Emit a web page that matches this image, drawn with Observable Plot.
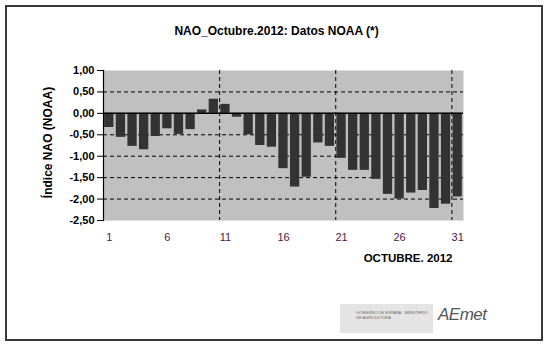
<!DOCTYPE html>
<html>
<head>
<meta charset="utf-8">
<script src="https://cdn.jsdelivr.net/npm/d3@7"></script>
<script src="https://cdn.jsdelivr.net/npm/@observablehq/plot@0.6"></script>
<style>
  html, body { margin: 0; padding: 0; background: #fff; }
  #wrap { position: relative; width: 550px; height: 347px; font-family: "Liberation Sans", Arial, sans-serif; }
  #border { position: absolute; left: 5px; top: 5px; width: 538px; height: 336px; box-sizing: border-box; border: 2px solid #3a3a3a; pointer-events: none; }
  #logo1 { position: absolute; left: 340px; top: 304px; width: 93px; height: 29px; background: #e4e4e4; font-size: 4px; color: #666; box-sizing: border-box; padding: 6px 0 0 16px; line-height: 5px; }
  #logo2 { position: absolute; left: 438px; top: 305px; font-size: 17px; font-style: italic; color: #555; letter-spacing: -0.5px; }
</style>
</head>
<body>
<div id="wrap">
  <div id="chart"></div>
  <div id="border"></div>
  <div id="logo1">GOBIERNO DE ESPAÑA &nbsp; MINISTERIO DE AGRICULTURA</div>
  <div id="logo2">AEmet</div>
</div>
<script>
const days = [1,2,3,4,5,6,7,8,9,10,11,12,13,14,15,16,17,18,19,20,21,22,23,24,25,26,27,28,29,30,31];
const nao = [-0.33,-0.56,-0.77,-0.85,-0.54,-0.36,-0.49,-0.38,0.08,0.33,0.21,-0.09,-0.50,-0.75,-0.79,-1.29,-1.72,-1.49,-0.69,-0.77,-1.05,-1.33,-1.33,-1.54,-1.89,-2.00,-1.86,-1.80,-2.22,-2.12,-1.95];
const xTicks = [1,6,11,16,21,26,31];
const yTicks = [1,0.5,0,-0.5,-1,-1.5,-2,-2.5];
const hGrid = [0.5,-0.5,-1,-1.5,-2];
const vGridDays = [11,21,31];
const title = "NAO_Octubre.2012: Datos NOAA (*)";
const yLabel = "Índice NAO (NOAA)";
const xLabel = "OCTUBRE. 2012";

const data = days.map((d, i) => ({day: d, value: nao[i]}));
const vGrid = vGridDays.map(d => d - 0.5);

const chart = Plot.plot({
  width: 550,
  height: 347,
  marginTop: 70,
  marginBottom: 127,
  marginLeft: 103,
  marginRight: 87,
  style: {fontFamily: '"Liberation Sans", Arial, sans-serif', fontSize: "11px", background: "transparent", overflow: "visible"},
  x: {type: "linear", domain: [0.5, 31.5]},
  y: {domain: [-2.5, 1]},
  marks: [
    Plot.frame({fill: "#c0c0c0", stroke: null}),
    Plot.ruleY(hGrid, {stroke: "#000", strokeWidth: 1, strokeDasharray: "4,3"}),
    Plot.ruleX(vGrid, {stroke: "#000", strokeWidth: 1, strokeDasharray: "4,3"}),
    Plot.rectY(data, {x1: d => d.day - 0.4, x2: d => d.day + 0.4, y1: 0, y2: "value", fill: "#333333"}),
    Plot.ruleY([0], {stroke: "#000", strokeWidth: 1.5}),
    Plot.frame({anchor: "left", stroke: "#000", strokeWidth: 1.2}),
    Plot.axisY({ticks: yTicks, tickFormat: d => d.toFixed(2).replace(".", ","), tickSize: 6, tickPadding: 3, fontWeight: "bold", fontSize: 11, fill: "#000", stroke: "#000", label: null}),
    Plot.axisX({ticks: xTicks, tickFormat: d => String(d), tickSize: 0, tickPadding: 13, fontSize: 11, fill: "#4a2048", label: null}),
    Plot.text([title], {frameAnchor: "top", dx: -7, dy: -44, fontWeight: "bold", fontSize: 12, fill: "#000"}),
    Plot.text([yLabel], {frameAnchor: "left", textAnchor: "middle", rotate: -90, dx: -55, dy: -3, fontWeight: "bold", fontSize: 12, fill: "#000"}),
    Plot.text([xLabel], {frameAnchor: "bottom-right", textAnchor: "end", dx: -11, dy: 41, fontWeight: "bold", fontSize: 11.5, fill: "#000"})
  ]
});
document.getElementById("chart").appendChild(chart);
</script>
</body>
</html>
